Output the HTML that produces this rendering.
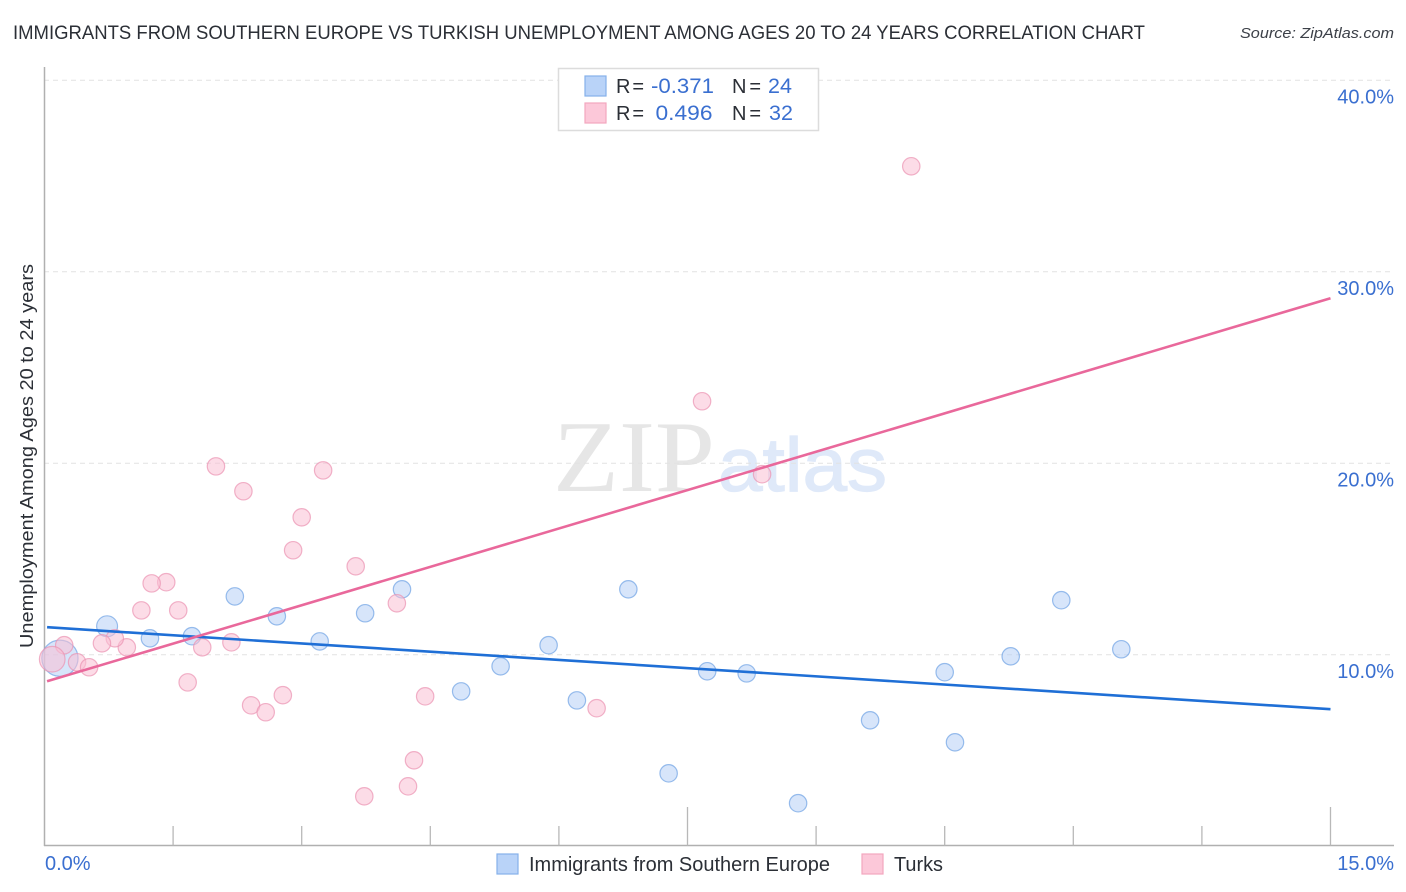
<!DOCTYPE html>
<html lang="en">
<head>
<meta charset="utf-8">
<title>Immigrants from Southern Europe vs Turkish Unemployment Correlation Chart</title>
<style>
html,body{margin:0;padding:0;background:#fff;width:1406px;height:892px;overflow:hidden}
svg{display:block}
text{font-family:"Liberation Sans",Arial,sans-serif}
</style>
</head>
<body>
<svg id="chart" xmlns="http://www.w3.org/2000/svg" width="1406" height="892" viewBox="0 0 1406 892">
  <g id="watermark">
    <text x="553" y="491" font-size="102" fill="#e6e6e6" style="font-family:'Liberation Serif',serif" textLength="162" lengthAdjust="spacingAndGlyphs">ZIP</text>
    <text x="718" y="491" font-size="76" fill="#dfe9f9" stroke="#dfe9f9" stroke-width="1.2" textLength="169" lengthAdjust="spacingAndGlyphs">atlas</text>
  </g>
  <g id="grid"></g>
  <g id="axes"></g>
  <g id="blue-points"></g>
  <g id="pink-points"></g>
  <g id="trends"></g>

  <text x="13" y="39" font-size="19.5" fill="#2b2f36" textLength="1132" lengthAdjust="spacingAndGlyphs">IMMIGRANTS FROM SOUTHERN EUROPE VS TURKISH UNEMPLOYMENT AMONG AGES 20 TO 24 YEARS CORRELATION CHART</text>
  <text x="1394" y="38" font-size="15" font-style="italic" fill="#3c4048" text-anchor="end" textLength="154" lengthAdjust="spacingAndGlyphs">Source: ZipAtlas.com</text>
  <text transform="translate(33,456) rotate(-90)" font-size="18" fill="#2b2f36" text-anchor="middle" textLength="384" lengthAdjust="spacingAndGlyphs">Unemployment Among Ages 20 to 24 years</text>

  <g>
    <rect x="558.5" y="68.5" width="260" height="62" fill="#fff" stroke="#dcdcdc" stroke-width="1.5"/>
    <rect x="585" y="76" width="21" height="20" fill="#b9d3f8" stroke="#86b1ea" stroke-width="1.2"/>
    <rect x="585" y="103" width="21" height="20" fill="#fcc8d9" stroke="#f2a6bf" stroke-width="1.2"/>
    <text x="616" y="93" font-size="20" fill="#2b2f36" textLength="28" lengthAdjust="spacing">R =</text>
    <text x="651" y="93" font-size="21.5" fill="#3a6fd0" textLength="63" lengthAdjust="spacingAndGlyphs">-0.371</text>
    <text x="732" y="93" font-size="20" fill="#2b2f36" textLength="29" lengthAdjust="spacing">N =</text>
    <text x="768" y="93" font-size="21.5" fill="#3a6fd0">24</text>
    <text x="616" y="120" font-size="20" fill="#2b2f36" textLength="28" lengthAdjust="spacing">R =</text>
    <text x="655.5" y="120" font-size="21.5" fill="#3a6fd0" textLength="57" lengthAdjust="spacingAndGlyphs">0.496</text>
    <text x="732" y="120" font-size="20" fill="#2b2f36" textLength="29" lengthAdjust="spacing">N =</text>
    <text x="769" y="120" font-size="21.5" fill="#3a6fd0">32</text>
  </g>

  <g>
    <rect x="497" y="854" width="21" height="20" fill="#b9d3f8" stroke="#86b1ea" stroke-width="1.2"/>
    <text x="529" y="871" font-size="20" fill="#2b2f36" textLength="301" lengthAdjust="spacingAndGlyphs">Immigrants from Southern Europe</text>
    <rect x="862" y="854" width="21" height="20" fill="#fcc8d9" stroke="#f2a6bf" stroke-width="1.2"/>
    <text x="894" y="871" font-size="20" fill="#2b2f36" textLength="49" lengthAdjust="spacingAndGlyphs">Turks</text>
  </g>
</svg>
<script>
const yTicks = [10, 20, 30, 40];
const yTickLabels = ['10.0%', '20.0%', '30.0%', '40.0%'];
const xTicks = [1.5, 3, 4.5, 6, 7.5, 9, 10.5, 12, 13.5, 15];
const xMajorTicks = [7.5, 15];
const xEndLabels = [[0, '0.0%'], [15, '15.0%']];

const blueX = [0.18,0.73,1.23,1.72,2.22,2.71,3.21,3.74,4.17,4.86,5.32,5.88,6.21,6.81,7.28,7.73,8.19,8.79,9.63,10.50,10.62,11.27,11.86,12.56];
const blueY = [9.82,11.49,10.86,10.97,13.05,12.01,10.70,12.17,13.42,8.09,9.40,10.50,7.62,13.42,3.81,9.14,9.03,2.25,6.58,9.09,5.43,9.92,12.85,10.29];
const blueN = [6,2,1,1,1,1,1,1,1,1,1,1,1,1,1,1,1,1,1,1,1,1,1,1];

const pinkX = [10.11,7.67,8.37,2.00,3.25,2.32,3.00,2.90,3.63,1.42,1.25,4.11,1.13,1.56,2.18,1.84,0.96,0.82,0.67,0.23,0.38,0.52,0.09,1.67,2.78,2.41,2.58,4.44,6.44,4.31,4.24,3.73];
const pinkY = [35.51,23.24,19.43,19.84,19.63,18.54,17.18,15.46,14.62,13.79,13.73,12.69,12.32,12.32,10.65,10.39,10.39,10.86,10.60,10.50,9.61,9.35,9.77,8.56,7.89,7.36,7.00,7.83,7.21,4.49,3.13,2.61];
const pinkN = [1,1,1,1,1,1,1,1,1,1,1,1,1,1,1,1,1,1,1,1,1,1,3,1,1,1,1,1,1,1,1,1];

const blueTrendX = [0.03, 15];
const blueTrendY = [11.44, 7.16];
const pinkTrendX = [0.03, 15];
const pinkTrendY = [8.62, 28.62];

const NS = 'http://www.w3.org/2000/svg';
function sx(v){ return 44.5 + v * 85.733; }
function sy(v){ return 846.3 - v * 19.15; }
function radius(n){ return 8.7 * Math.sqrt(n) * (n > 1 ? 0.85 : 1); }
function make(tag, attrs){
  const el = document.createElementNS(NS, tag);
  for (const k in attrs) el.setAttribute(k, attrs[k]);
  return el;
}

const grid = document.getElementById('grid');
yTicks.forEach(function(t, i){
  const line = make('line', {x1: 44, x2: 1394, y1: sy(t), y2: sy(t), stroke: '#e2e2e2', 'stroke-width': 1, 'stroke-dasharray': '5 4'});
  
  
  grid.appendChild(line);
  const label = make('text', {x: 1394, y: sy(t) + 23, 'font-size': 20, fill: '#3a6fd0', 'text-anchor': 'end'});
  label.textContent = yTickLabels[i];
  
  
  grid.appendChild(label);
});

const axes = document.getElementById('axes');
const yAxisLine = make('line', {x1: 44.5, x2: 44.5, y1: 67, y2: 846, stroke: '#b0b0b0', 'stroke-width': 1.5});


axes.appendChild(yAxisLine);
const xAxisLine = make('line', {x1: 44, x2: 1394, y1: 845.5, y2: 845.5, stroke: '#b0b0b0', 'stroke-width': 1.5});


axes.appendChild(xAxisLine);
xTicks.forEach(function(t){
  const top = xMajorTicks.indexOf(t) >= 0 ? 807 : 826;
  const tick = make('line', {x1: sx(t), x2: sx(t), y1: top, y2: 845.5, stroke: '#b8b8b8', 'stroke-width': 1.3});
  
  
  axes.appendChild(tick);
});
xEndLabels.forEach(function(p){
  const isEnd = p[0] !== 0;
  const label = make('text', {x: isEnd ? 1394 : 45, y: 870, 'font-size': 20, fill: '#3a6fd0', 'text-anchor': isEnd ? 'end' : 'start'});
  label.textContent = p[1];
  
  
  axes.appendChild(label);
});

function drawPoints(groupId, xs, ys, ns, fill, stroke){
  const g = document.getElementById(groupId);
  xs.forEach(function(x, i){
    const c = make('circle', {cx: sx(x), cy: sy(ys[i]), r: radius(ns[i]), fill: fill, 'fill-opacity': 0.55, stroke: stroke, 'stroke-opacity': 0.7, 'stroke-width': 1.2});
    
    
    g.appendChild(c);
  });
}
drawPoints('blue-points', blueX, blueY, blueN, '#b6d0f5', '#6fa3e4');
drawPoints('pink-points', pinkX, pinkY, pinkN, '#f9c0d3', '#eb93b2');

const trends = document.getElementById('trends');
const blueLine = make('line', {x1: sx(blueTrendX[0]), y1: sy(blueTrendY[0]), x2: sx(blueTrendX[1]), y2: sy(blueTrendY[1]), stroke: '#1f6fd6', 'stroke-width': 2.6});


trends.appendChild(blueLine);
const pinkLine = make('line', {x1: sx(pinkTrendX[0]), y1: sy(pinkTrendY[0]), x2: sx(pinkTrendX[1]), y2: sy(pinkTrendY[1]), stroke: '#e9689b', 'stroke-width': 2.6});


trends.appendChild(pinkLine);
</script>
</body>
</html>
